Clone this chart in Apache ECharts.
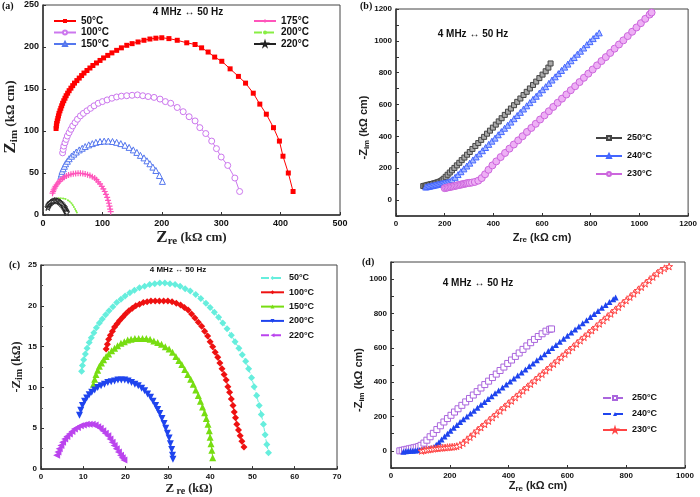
<!DOCTYPE html>
<html><head><meta charset="utf-8">
<script src="https://cdn.jsdelivr.net/npm/echarts@6/dist/echarts.min.js"></script>
<style>html,body{margin:0;padding:0;background:#fff}#c{width:700px;height:497px}</style>
</head><body><div id="c"></div>
<script>
// ---------- Panel (a) data: [Zre, Zim] ----------
const a50 = [[22,103],[22.5,106],[23,109],[24,112],[25,115],[26,118],[27,121],[28.5,124],[30,127],[31.5,130],[33,133],[35,136],[37,139],[39,142],[41.5,145],[44,148],[47,151],[50,154],[53,157],[57,160],[61,163],[65,166],[69,169],[74,172],[79,175],[84,178],[90,181],[96,184],[102,187],[109,190],[116,193],[124,196],[132,199],[141,202],[150,204],[160,206],[170,208],[180,209.5],[190,210.5],[200,211],[212,210],[226,208],[242,205],[256,203],[267,199],[278,194],[289,188],[301,183],[315,174],[329,165],[341,157],[354,145],[365,132],[376,120],[388,104],[398,88],[404,70],[413,50],[421,28]];
const a100 = [[33,74],[34,78],[35,82],[37,86],[39,90],[41,94],[44,98],[47,102],[50,106],[54,110],[58,114],[63,118],[68,121],[74,124],[80,127],[86,130],[93,133],[100,135],[108,137],[116,139],[124,140.5],[132,141.5],[141,142],[150,142.5],[159,143],[168,142],[177,141],[187,140],[197,138],[206,135],[215,133],[226,128],[236,123],[246,117],[256,112],[264,104],[274,97],[284,88],[292,79],[300,69],[311,59],[323,44],[331,28]];
const a150 = [[30,46],[31,49],[32,52],[34,55],[36,58],[38,61],[41,64],[44,67],[48,70],[52,72.5],[56,75],[61,77.5],[66,79.5],[71,81.5],[77,83.5],[83,85],[89,86.5],[96,87.5],[103,88],[110,88],[117,87.5],[124,86.5],[131,85],[138,83],[145,80.5],[152,77.5],[158,74.5],[164,71],[170,68],[175,64.5],[180,61],[185,57],[190,53],[196,47],[201,40]];
const a175 = [[16,26],[17,28],[18,30],[19.5,32],[21,34],[23,36],[25,38],[27.5,40],[30,42],[33,43.5],[36,45],[39.5,46.5],[43,47.5],[47,48.5],[51,49],[55,49.5],[59,49.7],[63,49.7],[67,49.3],[71,48.7],[75,48],[79,47],[83,45.5],[87,44],[90,42],[93,39.5],[96,37],[99,34],[101.5,31],[104,28],[106,24.5],[108,21],[109.5,17.5],[111,14],[112,10.5],[113,7],[114,4]];
const a200 = [[7,10],[9,12],[11,14],[13,15.5],[16,17],[19,18.3],[22,19.2],[26,19.8],[30,20],[34,19.7],[38,19],[42,17.5],[45,16],[48,14],[50,12],[52,9.5],[54,7],[55.5,5],[57,3]];
const a220 = [[8,9],[9,11],[10,12.5],[11.5,14],[13,15],[15,16],[17,16.8],[19.5,17.2],[22,17.2],[24.5,16.8],[27,16],[29,15],[31,13.5],[33,12],[34.5,10.5],[36,9],[37,7.5],[38,6],[39,4.5],[40,3]];

// ---------- Panel (b) data ----------
const b250 = [[112,88],[118,90],[124,92],[130,95],[136,97],[142,99],[148,101],[154,104],[160,106],[166,109],[172,112],[178,115],[184,119],[190,125],[196,134],[204,146],[212,159],[221,173],[230,187],[240,202],[250,218],[260,234],[270,251],[281,267],[292,285],[303,302],[314,321],[326,340],[338,358],[350,378],[362,397],[374,417],[386,436],[398,455],[410,474],[422,494],[434,514],[447,535],[460,555],[472,575],[485,596],[498,617],[511,638],[524,660],[537,680],[550,701],[563,723],[576,744],[589,766],[602,788],[615,809],[626,832],[635,858]];
const b240 = [[122,82],[128,84],[134,86],[140,88],[146,90],[152,92],[158,94],[164,96],[170,98],[176,100],[182,102],[188,104],[194,106],[200,108],[207,110],[214,113],[222,118],[231,128],[243,143],[255,160],[267,178],[279,196],[291,214],[303,232],[316,252],[329,271],[342,290],[355,310],[368,330],[381,350],[394,370],[407,389],[420,410],[433,430],[446,451],[459,470],[472,490],[485,511],[498,531],[511,551],[524,572],[537,592],[550,612],[563,633],[576,652],[589,672],[602,693],[615,712],[628,733],[641,754],[654,774],[667,794],[680,814],[693,835],[706,854],[719,875],[732,895],[745,916],[758,935],[771,955],[784,976],[797,995],[810,1014],[823,1033],[835,1050]];
const b230 = [[200,75],[206,77],[212,79],[218,81],[224,83],[230,85],[236,87],[242,89],[248,91],[254,93],[260,95],[266,97],[272,99],[278,101],[284,103],[290,105],[296,107],[303,108],[312,110],[324,114],[338,122],[352,138],[366,162],[380,190],[396,218],[412,243],[430,270],[448,296],[466,323],[484,349],[502,375],[520,401],[538,428],[556,453],[574,479],[592,506],[610,532],[628,558],[646,585],[664,611],[682,637],[700,663],[718,690],[736,715],[754,741],[772,768],[790,794],[808,820],[826,846],[844,873],[862,898],[880,924],[898,951],[916,977],[934,1003],[952,1030],[970,1057],[988,1084],[1006,1111],[1024,1138],[1042,1165],[1050,1178]];

// ---------- Panel (c) data ----------
const c50 = [[9.6,12.0],[9.8,12.7],[10.1,13.4],[10.5,14.1],[10.9,14.8],[11.4,15.5],[11.9,16.1],[12.5,16.7],[13.1,17.3],[13.8,17.9],[14.5,18.4],[15.3,18.9],[16.1,19.4],[17.0,19.9],[17.9,20.4],[18.9,20.8],[19.9,21.2],[21.0,21.6],[22.1,21.9],[23.3,22.2],[24.5,22.4],[25.7,22.6],[26.9,22.7],[28.1,22.8],[29.3,22.8],[30.5,22.7],[31.7,22.6],[32.9,22.4],[34.1,22.1],[35.3,21.8],[36.6,21.4],[37.8,20.9],[39.0,20.3],[40.0,19.8],[41.0,19.2],[42.0,18.6],[43.0,17.9],[44.0,17.2],[45.0,16.4],[45.9,15.6],[46.8,14.8],[47.6,14.0],[48.4,13.2],[49.1,12.3],[49.8,11.2],[50.4,10.1],[51.0,9.0],[51.6,7.8],[52.1,6.7],[52.6,5.5],[53.0,4.2],[53.4,3.0],[53.8,2.0]];
const c100 = [[15.4,14.7],[15.7,15.3],[16.0,15.9],[16.4,16.4],[16.9,16.9],[17.4,17.4],[18.0,17.8],[18.6,18.2],[19.3,18.6],[20.0,19.0],[20.8,19.4],[21.6,19.7],[22.4,20.0],[23.3,20.2],[24.2,20.4],[25.1,20.5],[26.0,20.6],[27.0,20.6],[28.0,20.6],[29.0,20.6],[30.0,20.6],[31.0,20.5],[32.0,20.3],[33.0,20.1],[33.9,19.8],[34.8,19.5],[35.6,19.0],[36.4,18.5],[37.2,18.0],[38.0,17.5],[38.7,16.9],[39.4,16.3],[40.0,15.6],[40.6,15.0],[41.2,14.3],[41.8,13.7],[42.3,13.0],[42.8,12.3],[43.3,11.6],[43.8,10.9],[44.2,10.1],[44.6,9.4],[45.0,8.6],[45.4,7.8],[45.7,7.0],[46.0,6.3],[46.3,5.5],[46.7,4.8],[47.1,4.1],[47.5,3.4],[48.0,2.7]];
const c150 = [[12.4,10.4],[12.7,11.0],[13.0,11.6],[13.4,12.1],[13.8,12.6],[14.3,13.0],[14.8,13.4],[15.4,13.8],[16.0,14.1],[16.7,14.5],[17.4,14.8],[18.1,15.1],[18.9,15.4],[19.7,15.6],[20.5,15.8],[21.3,15.9],[22.2,16.0],[23.1,16.0],[24.0,16.0],[24.9,16.0],[25.8,15.9],[26.7,15.7],[27.6,15.5],[28.5,15.3],[29.4,15.0],[30.3,14.7],[31.1,14.3],[31.9,13.8],[32.6,13.3],[33.3,12.8],[34.0,12.2],[34.7,11.6],[35.4,11.0],[36.0,10.4],[36.6,9.7],[37.2,9.0],[37.7,8.3],[38.2,7.6],[38.7,6.9],[39.1,6.2],[39.5,5.5],[39.8,4.7],[40.0,3.9],[40.2,3.1],[40.4,2.3],[40.6,1.4]];
const c200 = [[9.1,6.6],[9.4,7.2],[9.8,7.8],[10.3,8.3],[10.8,8.7],[11.4,9.1],[12.0,9.4],[12.7,9.7],[13.4,10.0],[14.2,10.2],[15.0,10.4],[15.8,10.6],[16.6,10.7],[17.4,10.8],[18.2,10.9],[19.0,10.9],[19.8,10.9],[20.6,10.8],[21.4,10.6],[22.2,10.4],[23.0,10.2],[23.8,9.9],[24.5,9.6],[25.2,9.2],[25.9,8.8],[26.5,8.3],[27.1,7.8],[27.6,7.3],[28.1,6.8],[28.6,6.2],[29.1,5.6],[29.5,5.0],[29.9,4.4],[30.3,3.8],[30.6,3.1],[30.9,2.4],[31.1,1.7],[31.2,1.2]];
const c220 = [[3.7,1.7],[4.0,2.1],[4.3,2.5],[4.7,2.9],[5.1,3.3],[5.6,3.7],[6.1,4.0],[6.7,4.3],[7.3,4.6],[7.9,4.9],[8.6,5.1],[9.3,5.3],[10.0,5.4],[10.7,5.5],[11.4,5.5],[12.1,5.5],[12.8,5.4],[13.4,5.2],[14.0,5.0],[14.6,4.7],[15.2,4.4],[15.8,4.1],[16.3,3.7],[16.8,3.3],[17.3,2.9],[17.8,2.5],[18.3,2.1],[18.8,1.7],[19.2,1.4],[19.6,1.1]];

// ---------- Panel (d) data ----------
const d250 = [[30,0],[38,3],[46,6],[54,9],[62,12],[70,15],[78,18],[86,21],[94,25],[102,32],[112,45],[122,62],[133,82],[144,102],[156,124],[168,146],[180,168],[192,188],[204,207],[216,226],[228,245],[241,265],[254,285],[267,305],[280,325],[293,345],[306,366],[319,386],[332,406],[345,427],[358,447],[371,468],[384,488],[397,509],[410,529],[423,550],[436,570],[449,591],[462,611],[475,630],[488,649],[501,666],[514,682],[527,697],[540,708],[546,710]];
const d240 = [[42,-5],[50,-3],[58,-1],[66,0],[74,1],[82,2],[90,4],[98,5],[106,7],[114,9],[122,11],[130,13],[138,16],[146,22],[154,35],[163,50],[172,66],[182,83],[192,100],[202,117],[213,134],[224,151],[235,168],[246,184],[258,200],[270,217],[282,234],[294,251],[306,268],[318,285],[330,302],[342,318],[354,335],[366,352],[379,369],[392,387],[405,404],[418,421],[431,439],[444,456],[457,474],[470,492],[483,509],[496,527],[509,545],[522,563],[535,581],[548,599],[561,617],[574,635],[587,653],[600,671],[613,689],[626,707],[639,725],[652,743],[665,761],[678,779],[691,797],[704,815],[717,833],[730,850],[743,867],[756,883],[764,893]];
const d230 = [[104,0],[112,3],[120,6],[128,8],[136,10],[144,12],[152,14],[160,15],[168,17],[176,18],[184,19],[192,21],[200,22],[208,23],[216,25],[224,27],[234,33],[245,45],[257,62],[269,80],[281,98],[293,117],[306,136],[319,155],[332,174],[345,194],[358,213],[371,233],[384,252],[397,272],[410,291],[423,311],[436,330],[449,350],[462,369],[475,389],[488,408],[501,428],[514,447],[527,467],[540,486],[553,506],[566,525],[579,545],[592,564],[605,584],[618,603],[631,623],[644,642],[657,662],[670,681],[683,701],[696,720],[709,740],[722,759],[735,779],[748,798],[761,818],[774,837],[787,857],[800,876],[813,896],[826,915],[839,935],[852,954],[865,974],[878,993],[891,1013],[904,1032],[917,1050],[930,1063],[946,1074]];

const SANS = '"Liberation Sans", Arial, sans-serif';
const SERIF = '"Liberation Serif", "Times New Roman", serif';
const PLUS = 'path://M4,0h2v4h4v2h-4v4h-2v-4h-4v-2h4z';
const STAR = 'path://M50,0L61,35L98,35L68,57L79,91L50,70L21,91L32,57L2,35L39,35Z';

const chart = echarts.init(document.getElementById('c'));

const grid = [
  {left:43, top:5, width:297, height:210},
  {left:396, top:9, width:294, height:207},
  {left:41, top:265, width:296, height:208},
  {left:391, top:262, width:294, height:206}
].map(g => Object.assign({show:true, borderColor:'#444', borderWidth:1}, g));

const plain = v => String(v);
const every200 = v => (v % 200 === 0 ? String(v) : '');

function axis(gi, min, max, interval, fs, extra, fmtFn) {
  return Object.assign({
    type:'value', gridIndex:gi, min:min, max:max, interval:interval,
    axisLine:{show:true, onZero:false, lineStyle:{color:'#333', width:1.5}},
    axisTick:{show:true, inside:true, length:3, lineStyle:{color:'#333'}},
    splitLine:{show:false},
    axisLabel:{fontFamily:SANS, fontWeight:'bold', fontSize:fs, color:'#111', margin:4, formatter:fmtFn || plain},
    nameLocation:'middle'
  }, extra || {});
}

const serifRich = (zs, ss, ts) => ({
  z:{fontFamily:SERIF, fontWeight:'bold', fontSize:zs, color:'#222'},
  s:{fontFamily:SERIF, fontWeight:'bold', fontSize:ss, color:'#222', padding:[Math.round(zs*0.4),0,0,0]},
  t:{fontFamily:SERIF, fontWeight:'bold', fontSize:ts, color:'#222'}
});
const sansRich = (ts, ss) => ({
  t:{fontFamily:SANS, fontWeight:'bold', fontSize:ts, color:'#222'},
  s:{fontFamily:SANS, fontWeight:'bold', fontSize:ss, color:'#222', padding:[5,0,0,0]}
});

const xAxis = [
  axis(0, 0, 500, 100, 9, {name:'{z|Z}{s|re}{t| (kΩ cm)}', nameGap:13, nameTextStyle:{rich:serifRich(17,11,13)}}),
  axis(1, 0, 1200, 200, 8, {name:'{t|Z}{s|re}{t| (kΩ cm)}', nameGap:15, nameTextStyle:{rich:sansRich(11,8)}}),
  axis(2, 0, 70, 10, 8, {name:'{z|Z}{s| re}{t| (kΩ)}', nameGap:9, nameTextStyle:{rich:serifRich(13,10,12)}}),
  axis(3, 0, 1000, 200, 8, {name:'{t|Z}{s|re}{t| (kΩ cm)}', nameGap:10, nameTextStyle:{rich:sansRich(11,8)}})
];
const yAxis = [
  axis(0, 0, 250, 50, 9, {name:'{z|Z}{s|im}{t| (kΩ cm)}', nameGap:22, nameTextStyle:{rich:serifRich(17,11,13), padding:[0,14,0,0]}}),
  axis(1, -100, 1200, 100, 8, {name:'{t|-Z}{s|im}{t| (kΩ cm)}', nameGap:21, nameTextStyle:{rich:sansRich(11,8), padding:[0,30,0,0]}}, every200),
  axis(2, 0, 25, 5, 8, {name:'{t|-}{z|Z}{s|im}{t| (kΩ)}', nameGap:12, nameTextStyle:{rich:serifRich(13,10,12)}, minorTick:{show:true, splitNumber:2, length:2, lineStyle:{color:'#555'}}}),
  axis(3, -100, 1100, 100, 8, {name:'{t|-Z}{s|im}{t| (kΩ cm)}', nameGap:19, nameTextStyle:{rich:sansRich(11,8), padding:[0,30,0,0]}}, every200)
];

function ser(name, data, gi, symbol, size, color, o) {
  o = o || {};
  return {
    type:'line', name:name, data:data, xAxisIndex:gi, yAxisIndex:gi,
    symbol:symbol, symbolSize:size, symbolRotate:o.rot || 0, showAllSymbol:true,
    lineStyle:{color:o.line || color, width:1, type:o.dash || 'solid'},
    itemStyle: o.hollow ? {color:o.fill || '#fff', borderColor:color, borderWidth:1}
                        : {color:color, borderColor:o.border || color, borderWidth:o.border ? 1 : 0},
    animation:false, silent:true
  };
}

const series = [
  ser('a|50°C', a50, 0, 'rect', 5, '#ff0000'),
  ser('a|100°C', a100, 0, 'circle', 6, '#cc77ee', {hollow:true}),
  ser('a|150°C', a150, 0, 'triangle', 6, '#5577ee', {hollow:true}),
  ser('a|175°C', a175, 0, PLUS, 6, '#ff55bb'),
  ser('a|200°C', a200, 0, 'circle', 2, '#88ee44', {dash:'dashed'}),
  ser('a|220°C', a220, 0, STAR, 6, '#222222', {hollow:true}),

  ser('b|250°C', b250, 1, 'rect', 5, '#444444', {hollow:true, fill:'#aaaaaa'}),
  ser('b|240°C', b240, 1, 'triangle', 6, '#4466ff', {hollow:true, fill:'#aabbff'}),
  ser('b|230°C', b230, 1, 'circle', 7, '#cc66dd', {hollow:true, fill:'#eeb0f5'}),

  ser('c|50°C', c50, 2, 'diamond', 7, '#66eedd', {dash:'dashed'}),
  ser('c|100°C', c100, 2, 'diamond', 7, '#ee1111'),
  ser('c|150°C', c150, 2, 'triangle', 7, '#77dd11'),
  ser('c|200°C', c200, 2, 'triangle', 7, '#1f44ee', {rot:180}),
  ser('c|220°C', c220, 2, 'triangle', 7, '#bb44ee', {rot:90, dash:'dashed'}),

  ser('d|250°C', d250, 3, 'rect', 6, '#aa66dd', {hollow:true, dash:'dashed'}),
  ser('d|240°C', d240, 3, 'triangle', 6, '#1f44ee', {dash:'dashed'}),
  ser('d|230°C', d230, 3, STAR, 7, '#ff4444', {hollow:true})
];

const fmt = n => n.split('|')[1];
function leg(names, left, top, iw, fs, lh, gap) {
  return {data:names, left:left, top:top, orient:'vertical', itemWidth:iw, itemHeight:5, itemGap:gap,
    formatter:fmt, selectedMode:false,
    textStyle:{fontFamily:SANS, fontWeight:'bold', fontSize:fs, lineHeight:lh, color:'#111'}};
}
const legend = [
  leg(['a|50°C','a|100°C','a|150°C'], 48, 11, 22, 10, 8, 1.5),
  leg(['a|175°C','a|200°C','a|220°C'], 248, 11, 22, 10, 8, 1.5),
  leg(['b|250°C','b|240°C','b|230°C'], 590, 128, 26, 9, 10, 8),
  leg(['c|50°C','c|100°C','c|150°C','c|200°C','c|220°C'], 255, 268, 23, 9, 10, 4.3),
  leg(['d|250°C','d|240°C','d|230°C'], 597, 388, 24, 9, 10, 6)
];

function txt(x, y, s, font, align) {
  return {type:'text', x:x, y:y, silent:true,
    style:{text:s, font:font, fill:'#111', align:align || 'left', verticalAlign:'middle',
           textAlign:align || 'left', textVerticalAlign:'middle'}};
}
const graphic = [
  txt(2, 6, '(a)', 'bold 10px ' + SERIF),
  txt(360, 6, '(b)', 'bold 10px ' + SERIF),
  txt(9, 265, '(c)', 'bold 10px ' + SERIF),
  txt(362, 262, '(d)', 'bold 10px ' + SERIF),
  txt(188, 12, '4 MHz ↔ 50 Hz', 'bold 10px ' + SANS, 'center'),
  txt(473, 34, '4 MHz ↔ 50 Hz', 'bold 10px ' + SANS, 'center'),
  txt(178, 270, '4 MHz ↔ 50 Hz', 'bold 8px ' + SANS, 'center'),
  txt(478, 283, '4 MHz ↔ 50 Hz', 'bold 10px ' + SANS, 'center')
];

chart.setOption({animation:false, backgroundColor:'#fff', grid, xAxis, yAxis, series, legend, graphic});
</script></body></html>
